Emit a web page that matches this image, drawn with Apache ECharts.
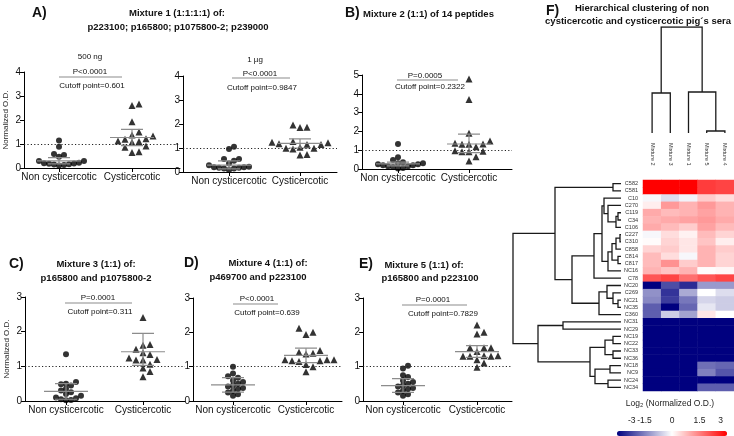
<!DOCTYPE html>
<html><head><meta charset="utf-8">
<script src="https://cdn.jsdelivr.net/npm/echarts@6/dist/echarts.min.js"></script>
<style>html,body{margin:0;padding:0;background:#fff}#c{width:734px;height:436px}</style>
</head><body><div id="c"></div>
<script>
// ================= DATA =================
const groupNames = ['Non cysticercotic', 'Cysticercotic'];
const normThreshold = 1;

const a1NonValues  = [1.15, 0.89, 0.54, 0.47, 0.58, 0.29, 0.2, 0.18, 0.15, 0.12, 0.1, 0.16, 0.19, 0.22, 0.29];
const a1CystValues = [2.6, 2.67, 1.93, 1.5, 1.33, 1.37, 1.2, 1.1, 1.07, 1.12, 1.22, 0.86, 0.92, 0.65, 0.68];
const a1NonErr  = [0.30, 0.17, 0.43];   // [centre, low, high]
const a1CystErr = [1.27, 0.93, 1.61];

const a2NonValues  = [0.96, 1.05, 0.54, 0.47, 0.54, 0.28, 0.2, 0.18, 0.15, 0.08, 0.15, 0.18, 0.2, 0.22, 0.35];
const a2CystValues = [1.96, 1.85, 1.86, 1.24, 1.15, 1.15, 1.18, 1.22, 1.27, 1.03, 0.99, 0.99, 0.96, 0.71, 0.73];
const a2NonErr  = [0.29, 0.13, 0.46];
const a2CystErr = [1.19, 1.0, 1.38];

const bNonValues  = [1.33, 0.62, 0.48, 0.36, 0.3, 0.25, 0.2, 0.15, 0.1, 0.05, 0.03, 0.15, 0.2, 0.25, 0.3];
const bCystValues = [4.79, 3.7, 1.9, 1.49, 1.33, 1.31, 1.31, 1.37, 1.19, 0.97, 0.92, 0.92, 0.95, 0.65, 0.43];
const bNonErr  = [0.27, 0.17, 0.37];
const bCystErr = [1.33, 0.87, 1.85];

const cNonValues  = [1.35, 0.55, 0.5, 0.48, 0.45, 0.35, 0.3, 0.25, 0.2, 0.15, 0.1, 0.08, 0.05, 0.03, 0.02];
const cCystValues = [2.41, 1.61, 1.63, 1.49, 1.39, 1.34, 1.2, 1.18, 1.18, 1.24, 1.06, 0.95, 0.85, 0.7];
const cNonErr  = [0.28, 0.05, 0.5];
const cCystErr = [1.42, 1.03, 1.95];

const dNonValues  = [1.0, 0.8, 0.72, 0.68, 0.6, 0.55, 0.5, 0.45, 0.42, 0.38, 0.35, 0.3, 0.25, 0.2, 0.15];
const dCystValues = [2.12, 2.0, 1.94, 1.47, 1.42, 1.39, 1.37, 1.2, 1.17, 1.2, 1.15, 1.17, 1.2, 1.06, 1.0, 0.85];
const dNonErr  = [0.47, 0.26, 0.68];
const dCystErr = [1.33, 1.12, 1.54];

const eNonValues  = [1.03, 0.95, 0.75, 0.7, 0.6, 0.55, 0.5, 0.45, 0.42, 0.38, 0.35, 0.3, 0.25, 0.2, 0.15];
const eCystValues = [2.21, 2.0, 1.95, 1.55, 1.55, 1.55, 1.44, 1.3, 1.3, 1.32, 1.3, 1.32, 1.2, 1.11, 0.98];
const eNonErr  = [0.45, 0.25, 0.65];
const eCystErr = [1.44, 1.27, 1.61];

const pValueTexts = ['P<0.0001', 'P<0.0001', 'P=0.0005', 'P=0.0001', 'P<0.0001', 'P=0.0001'];
const cutoffTexts = ['Cutoff point=0.601', 'Cutoff point=0.9847', 'Cutoff point=0.2322', 'Cutoff point=0.311', 'Cutoff point=0.639', 'Cutoff point=0.7829'];

const mixtureNames = ['Mixture 2', 'Mixture 3', 'Mixture 1', 'Mixture 5', 'Mixture 4'];
const seraNames = ['C582','C581','C10','C270','C119','C34','C106','C227','C310','C858','C814','C817','NC16','C78',
  'NC20','C269','NC21','NC35','C360','NC31','NC29','NC19','NC22','NC33','NC36','NC18','NC9','NC24','NC34'];
// log2(normalized O.D.), columns in mixtureNames order
const heatValues = [
  [3, 3, 3, 2.3, 2.2],
  [3, 3, 3, 2.3, 2.2],
  [-0.1, -0.4, -0.15, 0.6, 0.4],
  [0.2, 1.2, 0.9, 1.2, 0.9],
  [1.0, 0.8, 0.9, 1.1, 0.9],
  [0.9, 1.0, 1.1, 1.2, 1.0],
  [1.0, 0.8, 0.6, 1.1, 0.8],
  [-0.1, 0.4, 0.15, 0.8, 0.5],
  [0.05, 0.5, 0.3, 0.7, 0.2],
  [0.5, 0.6, 0.3, 0.9, 0.6],
  [0.8, 0.4, -0.1, 0.9, 0.5],
  [0.8, 1.3, 0.6, 0.9, 0.5],
  [0.9, 0.7, 0.9, 0.05, 0.1],
  [2.0, 2.2, 1.7, 2.0, 2.2],
  [-3, -2.1, -2.5, -1.2, -1.2],
  [-1.3, -2.4, -1.0, 0.0, -0.4],
  [-1.4, -2.3, -1.6, -0.5, -0.6],
  [-1.9, -3, -1.8, -0.3, -0.6],
  [-1.9, -0.6, -1.1, 0.3, 0.0],
  [-3, -3, -3, -3, -3],
  [-3, -3, -3, -3, -3],
  [-3, -3, -3, -3, -3],
  [-3, -3, -3, -3, -3],
  [-3, -3, -3, -3, -3],
  [-3, -3, -3, -3, -3],
  [-3, -3, -3, -1.7, -1.8],
  [-3, -3, -3, -1.5, -2.0],
  [-3, -3, -3, -3, -3],
  [-3, -3, -3, -1.9, -1.9]
];
const colorTicks = [-3, -1.5, 0, 1.5, 3];

// dendrograms: [left, right, mergeHeight], leaves are indices
const colTree = [[0, 1, 40], [2, [3, 4, 2], 41], 106];
const rowC10 = [2, [3, [[4, 5, 3], 6, 5], 13], 17];
const rowC227 = [[[[7, 8, 1], 9, 5], [10, 11, 3], 9], 12, 13];
const rowGroupA = [[rowC10, rowC227, 19], 13, 27];
const rowGroupB = [[14, [15, [16, 17, 3], 8], 14], 18, 22];
const rowTop = [[0, 1, 8], [rowGroupA, rowGroupB, 49], 66];
const rowNC = [[[21, 22, 8], [23, 24, 8], 16], [[25, 26, 11], [27, 28, 13], 26], 31];
const rowBottom = [[19, 20, 58], rowNC, 83];
const rowTree = [rowTop, rowBottom, 108];

// ================= LAYOUT =================
const FONT = '"Liberation Sans", Arial, sans-serif';
const panels = [
  {vals:[a1NonValues,a1CystValues], err:[a1NonErr,a1CystErr], left:24, top:72, width:156, height:96, yMax:4, nonX:59, cystX:132, yName:true,
   ann:{extra:['500 ng',90,57], p:[90,72], line:[59,122,77], cut:[92,86]}},
  {vals:[a2NonValues,a2CystValues], err:[a2NonErr,a2CystErr], left:183, top:76, width:154, height:96, yMax:4, nonX:229, cystX:300,
   ann:{extra:['1 µg',255,60], p:[260,74], line:[232,290,78], cut:[262,88]}},
  {vals:[bNonValues,bCystValues], err:[bNonErr,bCystErr], left:362, top:75, width:150, height:94, yMax:5, nonX:398, cystX:469,
   ann:{p:[425,76], line:[397,458,80], cut:[430,87]}},
  {vals:[cNonValues,cCystValues], err:[cNonErr,cCystErr], left:25, top:297, width:160, height:104, yMax:3, nonX:66, cystX:143, yName:true,
   ann:{p:[98,298], line:[65,132,303], cut:[100,312]}},
  {vals:[dNonValues,dCystValues], err:[dNonErr,dCystErr], left:193, top:298, width:149, height:103, yMax:3, nonX:233, cystX:306,
   ann:{p:[257,299], line:[233,278,304], cut:[267,313]}},
  {vals:[eNonValues,eCystValues], err:[eNonErr,eCystErr], left:363, top:298, width:149, height:103, yMax:3, nonX:403, cystX:477,
   ann:{p:[433,300], line:[402,467,305], cut:[443,314]}}
];
// where the colour-bar tick texts sit (the end labels are pulled inside the bar)
const colorLabelAt = [-2.2, -1.5, 0, 1.5, 2.65];

const grids = [], xAxes = [], yAxes = [], series = [], graphics = [];
function addGrid(g) { grids.push(Object.assign({containLabel:false, outerBoundsMode:'none'}, g)); return grids.length - 1; }
function txt(s, x, y, size, opt) {
  opt = opt || {};
  const al = opt.align || 'center';
  return {type:'text', x:x, y:y, silent:true, z:10,
    style:{text:s, fill:opt.color || '#111', fontSize:size, fontFamily:FONT, fontWeight:opt.bold ? 'bold' : 'normal',
      align:al, textAlign:al, verticalAlign:'middle', textVerticalAlign:'middle'}};
}
function hline(x1, x2, y) {
  return {type:'line', silent:true, shape:{x1:x1, y1:y, x2:x2, y2:y}, style:{stroke:'#8c8c8c', lineWidth:1.2}};
}
function swarm(values, centre, pxPerX, pxPerY, step) {
  const order = values.map((v, i) => i).sort((a, b) => values[a] - values[b]);
  const placed = [], out = new Array(values.length);
  order.forEach(i => {
    const y = values[i] * pxPerY;
    let x = 0;
    for (let t = 0; t < 60; t++) {
      const k = t === 0 ? 0 : (t % 2 ? Math.ceil(t / 2) : -Math.ceil(t / 2));
      x = k * step;
      if (!placed.some(p => Math.abs(p.x - x) < step * 0.95 && Math.abs(p.y - y) < step)) break;
    }
    placed.push({x:x, y:y});
    out[i] = [centre + x / pxPerX, values[i]];
  });
  return out;
}

panels.forEach((p, pi) => {
  const gi = addGrid({left:p.left, top:p.top, width:p.width, height:p.height});
  const unit = p.cystX - p.nonX;
  const xMin = 1 - (p.nonX - p.left) / unit, xMax = 2 + (p.left + p.width - p.cystX) / unit;
  const xi = xAxes.length;
  xAxes.push({gridIndex:gi, type:'value', min:xMin, max:xMax,
    axisLine:{show:true, onZero:false, lineStyle:{color:'#000', width:1}},
    axisTick:{show:true, customValues:[1, 2], length:4, lineStyle:{color:'#000'}},
    axisLabel:{show:true, customValues:[1, 2], formatter:v => groupNames[Math.round(v) - 1], fontSize:10, color:'#111', margin:4, fontFamily:FONT},
    splitLine:{show:false}});
  const yi = yAxes.length;
  yAxes.push({gridIndex:gi, type:'value', min:0, max:p.yMax, interval:1,
    axisLine:{show:true, lineStyle:{color:'#000', width:1}},
    axisTick:{show:true, length:4, lineStyle:{color:'#000'}},
    axisLabel:{fontSize:10, color:'#111', margin:3, fontFamily:FONT},
    splitLine:{show:false},
    name:p.yName ? 'Normalized O.D.' : '', nameLocation:'middle', nameGap:14,
    nameTextStyle:{fontSize:8, color:'#222', fontFamily:FONT}});
  const pxPerY = p.height / p.yMax;
  series.push({type:'scatter', xAxisIndex:xi, yAxisIndex:yi, symbol:'circle', symbolSize:6,
    itemStyle:{color:'#000'}, data:swarm(p.vals[0], 1, unit, pxPerY, 5), z:3, silent:true});
  series.push({type:'scatter', xAxisIndex:xi, yAxisIndex:yi, symbol:'triangle', symbolSize:7,
    itemStyle:{color:'#000'}, data:swarm(p.vals[1], 2, unit, pxPerY, 7), z:3, silent:true,
    markLine:{silent:true, symbol:'none', label:{show:false}, animation:false,
      lineStyle:{type:[1.2, 2.2], color:'#222', width:1}, data:[{yAxis:normThreshold}]}});
  const segs = [];
  [[1, p.err[0]], [2, p.err[1]]].forEach(([c, e]) => {
    const w = 22 / unit, cw = 11 / unit;
    segs.push([[c - w, e[0]], [c + w, e[0]]], [[c - cw, e[2]], [c + cw, e[2]]],
              [[c - cw, e[1]], [c + cw, e[1]]], [[c, e[1]], [c, e[2]]]);
  });
  series.push({type:'lines', coordinateSystem:'cartesian2d', xAxisIndex:xi, yAxisIndex:yi, polyline:true,
    data:segs.map(s => ({coords:s})), lineStyle:{color:'#8c8c8c', width:1.2, opacity:1}, z:4, silent:true});
  const a = p.ann;
  if (a.extra) graphics.push(txt(a.extra[0], a.extra[1], a.extra[2], 8));
  graphics.push(txt(pValueTexts[pi], a.p[0], a.p[1], 8));
  graphics.push(hline(a.line[0], a.line[1], a.line[2]));
  graphics.push(txt(cutoffTexts[pi], a.cut[0], a.cut[1], 8));
});

// panel titles
graphics.push(txt('A)', 32, 13, 14, {bold:true, align:'left'}));
graphics.push(txt('Mixture 1 (1:1:1:1) of:', 177, 13, 9.5, {bold:true}));
graphics.push(txt('p223100; p165800; p1075800-2; p239000', 178, 27, 9.5, {bold:true}));
graphics.push(txt('B)', 345, 13, 14, {bold:true, align:'left'}));
graphics.push(txt('Mixture 2 (1:1) of 14 peptides', 363, 14, 9.5, {bold:true, align:'left'}));
graphics.push(txt('C)', 9, 264, 14, {bold:true, align:'left'}));
graphics.push(txt('Mixture 3 (1:1) of:', 96, 264, 9.5, {bold:true}));
graphics.push(txt('p165800 and p1075800-2', 96, 278, 9.5, {bold:true}));
graphics.push(txt('D)', 184, 263, 14, {bold:true, align:'left'}));
graphics.push(txt('Mixture 4 (1:1) of:', 268, 263, 9.5, {bold:true}));
graphics.push(txt('p469700 and p223100', 258, 277, 9.5, {bold:true}));
graphics.push(txt('E)', 359, 264, 14, {bold:true, align:'left'}));
graphics.push(txt('Mixture 5 (1:1) of:', 424, 265, 9.5, {bold:true}));
graphics.push(txt('p165800 and p223100', 430, 278, 9.5, {bold:true}));
graphics.push(txt('F)', 546, 11, 14, {bold:true, align:'left'}));
graphics.push(txt('Hierarchical clustering of non', 642, 8, 9.5, {bold:true}));
graphics.push(txt('cysticercotic and cysticercotic pig´s sera', 638, 21, 9.5, {bold:true}));
graphics.push(txt('Log₂ (Normalized O.D.)', 670, 404, 8.5, {color:'#222'}));

// ---------- dendrograms ----------
function walk(node, segs, orient) {
  if (typeof node === 'number') return {p:node, h:0};
  const a = walk(node[0], segs, orient), b = walk(node[1], segs, orient), h = node[2];
  segs.push(orient === 'col'
    ? [[a.p, a.h], [a.p, h], [b.p, h], [b.p, b.h]]
    : [[a.h, a.p], [h, a.p], [h, b.p], [b.h, b.p]]);
  return {p:(a.p + b.p) / 2, h:h};
}
{
  const gi = addGrid({left:643, top:27, width:91, height:106});
  xAxes.push({gridIndex:gi, type:'category', data:mixtureNames, position:'bottom',
    axisLine:{show:false}, axisTick:{show:false}, splitLine:{show:false},
    axisLabel:{interval:0, rotate:-90, fontSize:5.5, color:'#333', margin:10, fontFamily:FONT}});
  const xv = xAxes.length;
  xAxes.push({gridIndex:gi, type:'value', min:-0.5, max:mixtureNames.length - 0.5, show:false, position:'top'});
  const yv = yAxes.length;
  yAxes.push({gridIndex:gi, type:'value', min:0, max:colTree[2], show:false});
  const segs = []; walk(colTree, segs, 'col');
  series.push({type:'lines', coordinateSystem:'cartesian2d', xAxisIndex:xv, yAxisIndex:yv, polyline:true,
    data:segs.map(s => ({coords:s})), lineStyle:{color:'#1a1a1a', width:1.3, opacity:1}, silent:true});
}
{
  const gi = addGrid({left:513, top:180, width:108, height:211});
  const xv = xAxes.length;
  xAxes.push({gridIndex:gi, type:'value', min:0, max:rowTree[2], inverse:true, show:false});
  const yv = yAxes.length;
  yAxes.push({gridIndex:gi, type:'value', min:-0.5, max:seraNames.length - 0.5, inverse:true, show:false});
  const segs = []; walk(rowTree, segs, 'row');
  series.push({type:'lines', coordinateSystem:'cartesian2d', xAxisIndex:xv, yAxisIndex:yv, polyline:true,
    data:segs.map(s => ({coords:s})), lineStyle:{color:'#1a1a1a', width:1.3, opacity:1}, silent:true});
}
let heatIdx;
{
  const gi = addGrid({left:643, top:180, width:91, height:211});
  const xi = xAxes.length;
  xAxes.push({gridIndex:gi, type:'category', data:mixtureNames, show:false});
  const yi = yAxes.length;
  yAxes.push({gridIndex:gi, type:'category', data:seraNames, inverse:true,
    axisLine:{show:false}, axisTick:{show:false}, splitLine:{show:false},
    axisLabel:{interval:0, fontSize:5.5, color:'#333', margin:5, fontFamily:FONT}});
  const data = [];
  heatValues.forEach((row, r) => row.forEach((v, c) => data.push([c, r, v])));
  heatIdx = series.length;
  series.push({type:'heatmap', xAxisIndex:xi, yAxisIndex:yi, data:data, silent:true, itemStyle:{borderWidth:0}});
}
{
  const gi = addGrid({left:617, top:431, width:110, height:5});
  xAxes.push({gridIndex:gi, type:'value', min:-3, max:3, position:'top',
    axisLine:{show:false}, splitLine:{show:false},
    axisTick:{show:true, customValues:[-1.5, 0, 1.5], length:3, lineStyle:{color:'#333'}},
    axisLabel:{customValues:colorLabelAt, formatter:v => String(colorTicks[colorLabelAt.indexOf(v)]),
      fontSize:8.5, color:'#222', margin:6, fontFamily:FONT}});
  yAxes.push({gridIndex:gi, type:'value', show:false});
}

const chart = echarts.init(document.getElementById('c'));
chart.setOption({
  backgroundColor:'#fff',
  animation:false,
  grid:grids, xAxis:xAxes, yAxis:yAxes, series:series,
  graphic:{elements:graphics},
  visualMap:{type:'continuous', min:-3, max:3, seriesIndex:heatIdx, dimension:2,
    orient:'horizontal', left:617, top:431, itemWidth:5, itemHeight:110, padding:0,
    calculable:false, hoverLink:false, inRange:{color:['#00007f', '#ffffff', '#ff0000']}}
});
</script></body></html>
